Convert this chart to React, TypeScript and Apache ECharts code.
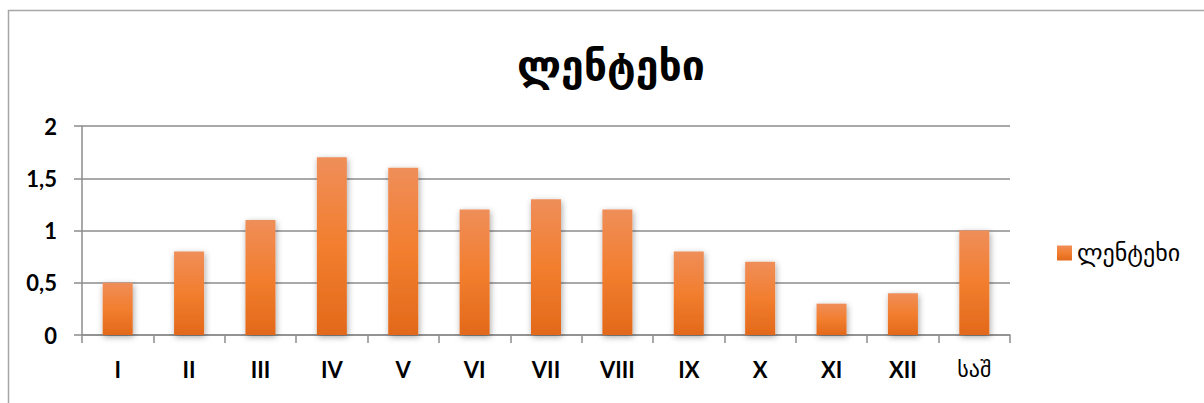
import React, { useEffect, useRef } from "react";
import * as echarts from "echarts";

const titleText = "ლენტეხი";
const seriesName = "ლენტეხი";
const categories = ["I", "II", "III", "IV", "V", "VI", "VII", "VIII", "IX", "X", "XI", "XII", "საშ"];
const values = [0.5, 0.8, 1.1, 1.7, 1.6, 1.2, 1.3, 1.2, 0.8, 0.7, 0.3, 0.4, 1.0];
const yMin = 0;
const yMax = 2;
const yInterval = 0.5;

const latinFont = "Lato, 'DejaVu Sans', sans-serif";
const geoFont = "'DejaVu Sans', sans-serif";
const gray = "#8c8c8c";

export default function App() {
  const ref = useRef<HTMLDivElement>(null);
  useEffect(() => {
    if (!ref.current) return;
    const chart = echarts.init(ref.current, null, { renderer: "svg" });
    chart.setOption({
      animation: false,
      backgroundColor: "#ffffff",
      graphic: [
        {
          type: "rect",
          left: 6,
          top: 8,
          shape: { width: 1400, height: 600 },
          style: { fill: "none", stroke: "#a6a6a6", lineWidth: 1.5 },
          silent: true,
        },
      ],
      title: {
        text: titleText,
        left: 606,
        textAlign: "center",
        top: 40,
        textStyle: { fontFamily: geoFont, fontSize: 41, fontWeight: "bold", color: "#000" },
      },
      legend: {
        left: 1052,
        top: 236,
        itemWidth: 15,
        itemHeight: 15,
        icon: "rect",
        data: [seriesName],
        textStyle: { fontFamily: geoFont, fontSize: 24, fontWeight: "normal", color: "#000" },
      },
      grid: { left: 82, top: 126, right: 194, bottom: 68, containLabel: false },
      xAxis: {
        type: "category",
        data: categories,
        axisLine: { show: true, lineStyle: { color: gray, width: 1.5 } },
        axisTick: { show: true, length: 8, alignWithLabel: false, lineStyle: { color: gray, width: 1.5 } },
        axisLabel: {
          interval: 0,
          margin: 23,
          color: "#000",
          fontSize: 22,
          fontWeight: "bold",
          fontFamily: latinFont,
          formatter: (v: string) => (/^[IVX]+$/.test(v) ? v : `{g|${v}}`),
          rich: { g: { fontFamily: geoFont, fontWeight: "normal", fontSize: 22, color: "#000" } },
        },
      },
      yAxis: {
        type: "value",
        min: yMin,
        max: yMax,
        interval: yInterval,
        axisLine: { show: true, lineStyle: { color: gray, width: 1.5 } },
        axisTick: { show: true, length: 8, lineStyle: { color: gray, width: 1.5 } },
        splitLine: { show: true, lineStyle: { color: gray, width: 1.5 } },
        axisLabel: {
          margin: 25,
          color: "#000",
          fontSize: 22,
          fontWeight: "bold",
          fontFamily: latinFont,
          formatter: (v: number) => String(v).replace(".", ","),
        },
      },
      series: [
        {
          name: seriesName,
          type: "bar",
          data: values,
          barWidth: 30,
          itemStyle: {
            color: new echarts.graphic.LinearGradient(0, 0, 0, 1, [
              { offset: 0, color: "#ef8e59" },
              { offset: 0.5, color: "#f27e2f" },
              { offset: 1, color: "#e2691a" },
            ]),
            shadowBlur: 6,
            shadowColor: "rgba(0,0,0,0.35)",
            shadowOffsetX: 1,
            shadowOffsetY: 2,
          },
        },
      ],
    });
    return () => chart.dispose();
  }, []);
  return (
    <div
      ref={ref}
      style={{ position: "fixed", left: 0, top: 0, width: 1204, height: 403 }}
    />
  );
}
